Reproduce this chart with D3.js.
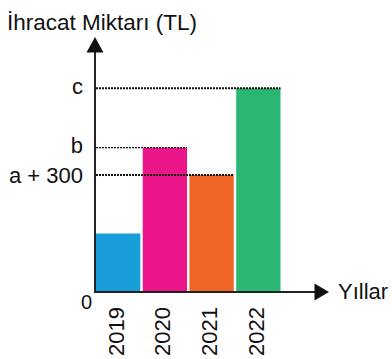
<!DOCTYPE html>
<html>
<head>
<meta charset="utf-8">
<script src="https://cdn.jsdelivr.net/npm/d3@7"></script>
<style>
  html, body { margin: 0; padding: 0; background: #fff; }
  svg { display: block; }
  text { font-family: "Liberation Sans", Arial, Helvetica, sans-serif; fill: #111; }
</style>
</head>
<body>
<svg id="chart" width="392" height="359"></svg>
<script>
// Export amounts per year (symbolic units)
const years = ["2019", "2020", "2021", "2022"];
const values = [300, 740, 600, 1045];
const colors = ["#199ed9", "#ec168b", "#f06525", "#2cb673"];

// Reference levels marked on the vertical axis
const refYears = ["2022", "2020", "2021"];
const refLabels = ["c", "b", "a + 300"];
const refDy = [6, 5, 8];
const refWidth = [2, 1.3, 2];

const yMax = 1300;

const svg = d3.select("#chart");

const x = d3.scaleBand()
  .domain(years)
  .range([96, 280.5])
  .paddingInner(0.052)
  .paddingOuter(0);

const y = d3.scaleLinear()
  .domain([0, yMax])
  .range([292, 38.5]);

const axisX = 95;

// Bars
svg.append("g")
  .selectAll("rect")
  .data(years)
  .join("rect")
  .attr("x", d => x(d))
  .attr("width", x.bandwidth())
  .attr("y", (d, i) => y(values[i]))
  .attr("height", (d, i) => y(0) - y(values[i]))
  .attr("fill", (d, i) => colors[i]);

// Dotted reference lines from the axis to the right edge of each bar
const refs = svg.append("g");
refYears.forEach((yr, i) => {
  const v = values[years.indexOf(yr)];
  const yy = y(v);
  refs.append("line")
    .attr("x1", axisX + 1)
    .attr("x2", x(yr) + x.bandwidth())
    .attr("y1", yy)
    .attr("y2", yy)
    .attr("stroke", "#111")
    .attr("stroke-width", refWidth[i])
    .attr("stroke-dasharray", "2,1");
  refs.append("text")
    .attr("x", 83)
    .attr("y", yy + refDy[i])
    .attr("text-anchor", "end")
    .attr("font-size", 22)
    .text(refLabels[i]);
});

// Axes with arrowheads
const axes = svg.append("g");
axes.append("line")
  .attr("x1", axisX).attr("x2", axisX)
  .attr("y1", y(0) + 1).attr("y2", 50)
  .attr("stroke", "#222").attr("stroke-width", 2);
axes.append("path")
  .attr("d", `M${axisX},37 L${axisX - 8.5},52.5 L${axisX + 8.5},52.5 Z`)
  .attr("fill", "#111");

axes.append("line")
  .attr("x1", axisX - 1).attr("x2", 317)
  .attr("y1", y(0)).attr("y2", y(0))
  .attr("stroke", "#222").attr("stroke-width", 2);
axes.append("path")
  .attr("d", `M329,${y(0)} L314.5,${y(0) - 8.5} L314.5,${y(0) + 8.5} Z`)
  .attr("fill", "#111");

// Axis titles and origin
svg.append("text")
  .attr("x", 7).attr("y", 30)
  .attr("font-size", 22.5)
  .text("İhracat Miktarı (TL)");

svg.append("text")
  .attr("x", 338).attr("y", 299)
  .attr("font-size", 22)
  .text("Yıllar");

svg.append("text")
  .attr("x", 81).attr("y", 309)
  .attr("font-size", 20)
  .text("0");

// Year labels, rotated to read upward
svg.append("g")
  .selectAll("text")
  .data(years)
  .join("text")
  .attr("transform", d => `translate(${x(d) + x.bandwidth() / 2 + 5.5},307) rotate(-90)`)
  .attr("text-anchor", "end")
  .attr("font-size", 22)
  .text(d => d);
</script>
</body>
</html>
